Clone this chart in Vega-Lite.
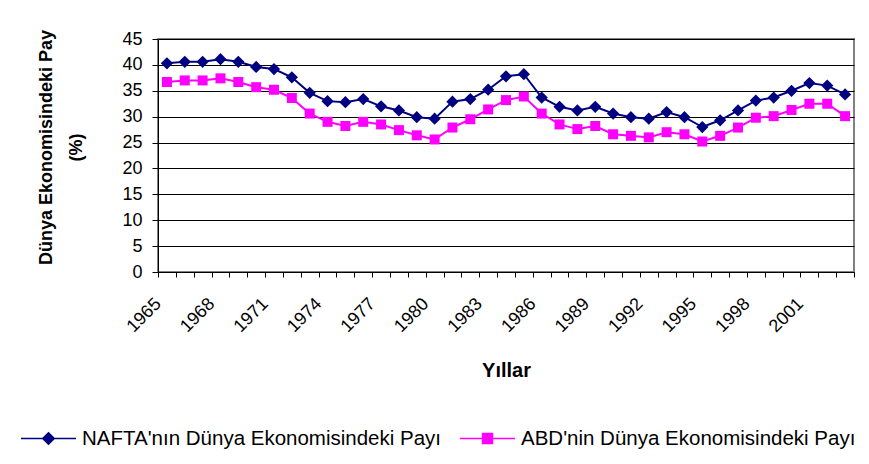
{
  "$schema": "https://vega.github.io/schema/vega-lite/v6.json",
  "width": 696,
  "height": 233,
  "autosize": "none",
  "padding": {"left": 158, "top": 39, "right": 15, "bottom": 192},
  "background": "white",
  "config": {
    "font": "Liberation Sans",
    "axis": {"labelFont": "Liberation Sans", "titleFont": "Liberation Sans"},
    "legend": {"labelFont": "Liberation Sans"},
    "view": {"stroke": "#808080", "strokeWidth": 2}
  },
  "data": {
    "values": [
      {"year": 1965, "NAFTA": 40.3, "ABD": 36.7},
      {"year": 1966, "NAFTA": 40.6, "ABD": 37.0},
      {"year": 1967, "NAFTA": 40.6, "ABD": 37.0},
      {"year": 1968, "NAFTA": 41.1, "ABD": 37.4},
      {"year": 1969, "NAFTA": 40.6, "ABD": 36.7},
      {"year": 1970, "NAFTA": 39.6, "ABD": 35.7},
      {"year": 1971, "NAFTA": 39.2, "ABD": 35.2},
      {"year": 1972, "NAFTA": 37.6, "ABD": 33.6},
      {"year": 1973, "NAFTA": 34.6, "ABD": 30.6},
      {"year": 1974, "NAFTA": 33.0, "ABD": 29.0},
      {"year": 1975, "NAFTA": 32.8, "ABD": 28.2},
      {"year": 1976, "NAFTA": 33.4, "ABD": 29.0},
      {"year": 1977, "NAFTA": 32.0, "ABD": 28.5},
      {"year": 1978, "NAFTA": 31.2, "ABD": 27.4},
      {"year": 1979, "NAFTA": 29.9, "ABD": 26.4},
      {"year": 1980, "NAFTA": 29.6, "ABD": 25.6},
      {"year": 1981, "NAFTA": 32.9, "ABD": 27.9},
      {"year": 1982, "NAFTA": 33.4, "ABD": 29.5},
      {"year": 1983, "NAFTA": 35.2, "ABD": 31.4},
      {"year": 1984, "NAFTA": 37.8, "ABD": 33.2},
      {"year": 1985, "NAFTA": 38.2, "ABD": 33.9},
      {"year": 1986, "NAFTA": 33.7, "ABD": 30.6},
      {"year": 1987, "NAFTA": 31.9, "ABD": 28.5},
      {"year": 1988, "NAFTA": 31.2, "ABD": 27.6},
      {"year": 1989, "NAFTA": 31.9, "ABD": 28.2},
      {"year": 1990, "NAFTA": 30.6, "ABD": 26.6},
      {"year": 1991, "NAFTA": 29.9, "ABD": 26.3},
      {"year": 1992, "NAFTA": 29.6, "ABD": 26.0},
      {"year": 1993, "NAFTA": 30.9, "ABD": 27.0},
      {"year": 1994, "NAFTA": 29.9, "ABD": 26.6},
      {"year": 1995, "NAFTA": 28.0, "ABD": 25.2},
      {"year": 1996, "NAFTA": 29.3, "ABD": 26.3},
      {"year": 1997, "NAFTA": 31.2, "ABD": 27.9},
      {"year": 1998, "NAFTA": 33.1, "ABD": 29.8},
      {"year": 1999, "NAFTA": 33.7, "ABD": 30.1},
      {"year": 2000, "NAFTA": 35.0, "ABD": 31.3},
      {"year": 2001, "NAFTA": 36.5, "ABD": 32.5},
      {"year": 2002, "NAFTA": 36.0, "ABD": 32.5},
      {"year": 2003, "NAFTA": 34.3, "ABD": 30.1}
    ]
  },
  "transform": [{"fold": ["NAFTA", "ABD"], "as": ["series", "value"]}],
  "encoding": {
    "x": {
      "field": "year",
      "type": "ordinal",
      "scale": {"type": "band", "paddingInner": 0, "paddingOuter": 0},
      "axis": {
        "title": "Yıllar",
        "titleFontSize": 20,
        "titleFontWeight": "bold",
        "titleColor": "#000000",
        "titleY": 88,
        "titleBaseline": "top",
        "labelExpr": "(datum.value - 1965) % 3 == 0 ? datum.label : ''",
        "labelAngle": -45,
        "labelAlign": "right",
        "labelBaseline": "middle",
        "labelFontSize": 18,
        "labelColor": "#000000",
        "labelPadding": 24,
        "labelOffset": -9,
        "labelOverlap": false,
        "tickBand": "extent",
        "tickSize": 5,
        "tickColor": "#000000",
        "domainColor": "#000000",
        "grid": false
      }
    },
    "y": {
      "field": "value",
      "type": "quantitative",
      "scale": {"domain": [0, 45], "nice": false},
      "axis": {
        "values": [0, 5, 10, 15, 20, 25, 30, 35, 40, 45],
        "title": ["Dünya Ekonomisindeki Pay", "(%)"],
        "titleFontSize": 18,
        "titleFontWeight": "bold",
        "titleColor": "#000000",
        "titleLineHeight": 30,
        "titleX": -103,
        "titleY": 108,
        "titleAngle": -90,
        "titleAlign": "center",
        "titleBaseline": "bottom",
        "labelFontSize": 18,
        "labelColor": "#000000",
        "labelPadding": 10,
        "tickSize": 6,
        "tickColor": "#000000",
        "domainColor": "#000000",
        "gridColor": "#000000",
        "gridWidth": 1
      }
    }
  },
  "layer": [
    {
      "mark": {"type": "line", "strokeWidth": 2},
      "encoding": {
        "color": {
          "field": "series",
          "type": "nominal",
          "sort": ["NAFTA", "ABD"],
          "scale": {"domain": ["NAFTA", "ABD"], "range": ["#000080", "#ff00ff"]},
          "legend": {
            "orient": "none",
            "legendX": -138,
            "legendY": 371,
            "direction": "horizontal",
            "title": null,
            "padding": 0,
            "symbolSize": 3025,
            "symbolStrokeWidth": 1.5,
            "labelFontSize": 20.5,
            "labelColor": "#000000",
            "labelOffset": 5,
            "labelLimit": 0,
            "columnPadding": 15,
            "labelExpr": "datum.value == 'NAFTA' ? \"NAFTA'nın Dünya Ekonomisindeki Payı\" : \"ABD'nin Dünya Ekonomisindeki Payı\"",
            "encode": {
              "symbols": {
                "update": {
                  "shape": {"signal": "datum.value == 'ABD' ? 'M-1,0H1M-0.18,-0.18H0.18V0.18H-0.18Z' : 'M-1,0H1M0,-0.21L0.21,0L0,0.21L-0.21,0Z'"},
                  "fill": {"signal": "datum.value == 'ABD' ? '#ff00ff' : '#000080'"},
                  "stroke": {"signal": "datum.value == 'ABD' ? '#ff00ff' : '#000080'"},
                  "strokeWidth": {"value": 1.5},
                  "size": {"value": 3025},
                  "opacity": {"value": 1}
                }
              }
            }
          }
        }
      }
    },
    {
      "transform": [{"filter": "datum.series == 'NAFTA'"}],
      "mark": {"type": "point", "filled": true, "opacity": 1, "shape": "diamond", "size": 150, "color": "#000080"},
      "encoding": {}
    },
    {
      "transform": [{"filter": "datum.series == 'ABD'"}],
      "mark": {"type": "point", "filled": true, "opacity": 1, "shape": "square", "size": 100, "color": "#ff00ff"},
      "encoding": {}
    }
  ]
}
